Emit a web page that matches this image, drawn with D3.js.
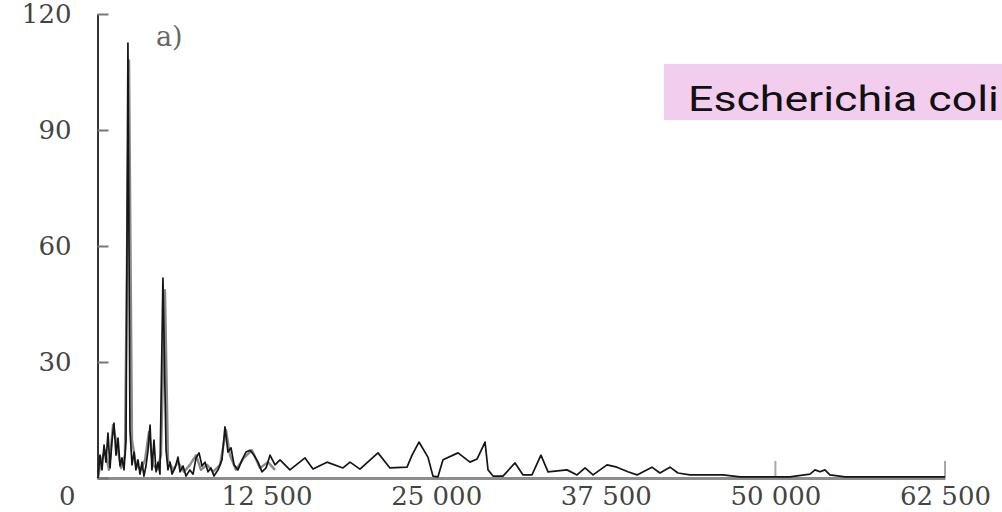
<!DOCTYPE html>
<html>
<head>
<meta charset="utf-8">
<script src="https://cdn.jsdelivr.net/npm/d3@7"></script>
<style>
  html, body { margin: 0; padding: 0; background: #fff; overflow: hidden; }
  svg { display: block; }
</style>
</head>
<body>
<svg id="chart" width="1002" height="512"></svg>
<script>
// Main trace: mass (Da) and count at each sampled point
const massMain = [70, 220, 370, 520, 660, 810, 960, 1110, 1250, 1400, 1550, 1700, 1840, 1990, 2140, 2280,
  2430, 2580, 2730, 2870, 3020, 3170, 3320, 3460, 3610, 3760, 3910, 4050, 4200, 4350, 4500, 4640, 4860,
  5090, 5230, 5380, 5530, 5750, 5970, 6120, 6340, 6560, 6850, 7080, 7300, 7520, 7740, 7960, 8180, 8400,
  8620, 8920, 9210, 9430, 9650, 9880, 10100, 10390, 10690, 10980, 11280, 11570, 11870, 12160, 12460,
  12750, 13120, 13490, 14220, 15330, 15920, 16950, 18130, 18650, 19380, 20710, 21590, 22850, 23220,
  23730, 24390, 24760, 25130, 25500, 26610, 27490, 28010, 28600, 28820, 29190, 29920, 30810, 31400,
  32060, 32720, 33240, 34640, 35380, 35970, 36560, 37590, 38320, 39130, 39800, 40900, 41490, 42230,
  42820, 43700, 44810, 46140, 47390, 48860, 51070, 52550, 52920, 53290, 53650, 54020, 55130, 59180, 62500];
const countMain = [0, 5.9, 2.1, 8.5, 4.1, 11.6, 2.6, 9.8, 14.2, 5.9, 10.3, 3.1, 5.2, 2.1, 9.8, 112.5,
  12.4, 3.4, 6.7, 2.1, 4.7, 1.0, 4.1, 0.5, 3.1, 7.2, 13.7, 2.1, 9.8, 1.6, 4.1, 1.0, 51.7,
  7.2, 2.1, 4.1, 1.0, 2.6, 5.4, 1.6, 3.1, 0.5, 2.1, 1.0, 5.2, 6.5, 3.1, 4.1, 1.6, 2.6,
  0.5, 2.1, 4.7, 13.2, 6.7, 7.8, 3.4, 2.1, 4.7, 6.7, 7.2, 5.9, 4.1, 1.6, 2.6,
  5.9, 3.4, 4.7, 2.1, 5.2, 2.3, 4.1, 2.6, 4.1, 2.3, 6.5, 2.6, 2.8, 5.9,
  9.3, 5.4, 0.5, 0.3, 4.7, 6.5, 4.1, 4.9, 9.3, 2.1, 0.5, 0.5, 3.9, 0.8,
  0.8, 5.9, 1.6, 2.1, 0.8, 2.6, 0.8, 3.4, 2.8, 1.6, 0.8, 2.8, 1.3, 2.8,
  1.3, 0.8, 0.8, 0.8, 0.3, 0.3, 0.3, 1.0, 2.1, 1.6, 2.1, 0.8, 0.3, 0.3, 0.3];

// Second, fainter trace that overlaps the low-mass region
const massShadow = [70, 290, 590, 880, 1180, 1470, 1770, 2060, 2360, 2580, 2870, 3240, 3540, 3830, 4130,
  4420, 4720, 5010, 5230, 5600, 5970, 6410, 6850, 7300, 7660, 8110, 8550, 9070, 9510, 9800, 10240,
  10830, 11420, 12010, 12600, 13120];
const countShadow = [0, 4.1, 7.2, 2.1, 13.7, 8.5, 2.6, 5.9, 108, 9.8, 3.4, 2.1, 4.7, 11.9, 3.4,
  2.1, 5.9, 48.6, 4.7, 2.1, 4.1, 1.6, 3.4, 5.9, 2.1, 3.4, 1.6, 3.4, 12.4, 5.9, 2.1,
  5.2, 7.2, 2.6, 4.1, 2.1];

const xTicks = [12500, 25000, 37500, 50000, 62500];
const yTicks = [0, 30, 60, 90, 120];
const markedXTicks = [50000, 62500];
const panelLabel = "a)";
const organism = "Escherichia coli";

const svg = d3.select("#chart");

const x = d3.scaleLinear().domain([0, 62500]).range([97, 945]);
const y = d3.scaleLinear().domain([0, 120]).range([478, 14]);

const spaced = d3.formatLocale({ decimal: ".", thousands: " ", grouping: [3], currency: ["", ""] }).format(",");

// x axis: thick grey baseline, labels below
const xAxis = svg.append("g")
    .attr("transform", `translate(0,${y(0)})`)
    .call(d3.axisBottom(x).tickValues(xTicks).tickFormat(spaced).tickSize(0).tickSizeOuter(0).tickPadding(9));
xAxis.select(".domain").attr("stroke", "#8c8c8c").attr("stroke-width", 3);

// only the last two ticks are visible in the source figure
svg.append("g").selectAll("line")
  .data(markedXTicks)
  .join("line")
    .attr("x1", d => x(d)).attr("x2", d => x(d))
    .attr("y1", y(0)).attr("y2", y(0) - 17)
    .attr("stroke", "#a8a8a8").attr("stroke-width", 2);

// y axis: ticks point inwards, labels far left
const yAxis = svg.append("g")
    .attr("transform", `translate(${x(0) + 0.5},0)`)
    .call(d3.axisLeft(y).tickValues(yTicks).tickSize(-11).tickSizeOuter(0).tickPadding(26));
yAxis.select(".domain").attr("stroke", "#333").attr("stroke-width", 2);
yAxis.selectAll(".tick line").attr("stroke", "#777").attr("stroke-width", 2);
// the zero label sits on the row of the x labels
yAxis.selectAll(".tick text").filter(d => d === 0).attr("dy", "1.0em").attr("x", -22);

svg.selectAll(".tick text")
    .attr("font-family", "'DejaVu Serif', serif")
    .attr("font-size", 26)
    .attr("fill", "#444");

// traces
const line = d3.line().x(d => x(d[0])).y(d => y(d[1]));

svg.append("path")
    .datum(d3.zip(massShadow, countShadow))
    .attr("fill", "none")
    .attr("stroke", "#8a8a8a")
    .attr("stroke-width", 2.4)
    .attr("stroke-linejoin", "round")
    .attr("d", line);

svg.append("path")
    .datum(d3.zip(massMain, countMain))
    .attr("fill", "none")
    .attr("stroke", "#151515")
    .attr("stroke-width", 1.7)
    .attr("stroke-linejoin", "round")
    .attr("d", line);

svg.append("text")
    .attr("x", 156).attr("y", 46)
    .attr("font-family", "'DejaVu Serif', serif")
    .attr("font-size", 27)
    .attr("fill", "#666")
    .text(panelLabel);

// pink name tag, running off the right edge like the source
svg.append("rect")
    .attr("x", 664).attr("y", 64)
    .attr("width", 400).attr("height", 56)
    .attr("fill", "#f2cdee");

const tag = svg.append("text")
    .attr("font-family", "Roboto, 'Noto Sans', sans-serif")
    .attr("font-size", 35)
    .attr("fill", "#111")
    .text(organism);

// the source text is stretched horizontally; fit the whole name before the edge
const fullWidth = tag.node().getComputedTextLength();
const sx = 311 / fullWidth;
tag.attr("transform", `translate(688,111) scale(${sx},1)`);
</script>
</body>
</html>
